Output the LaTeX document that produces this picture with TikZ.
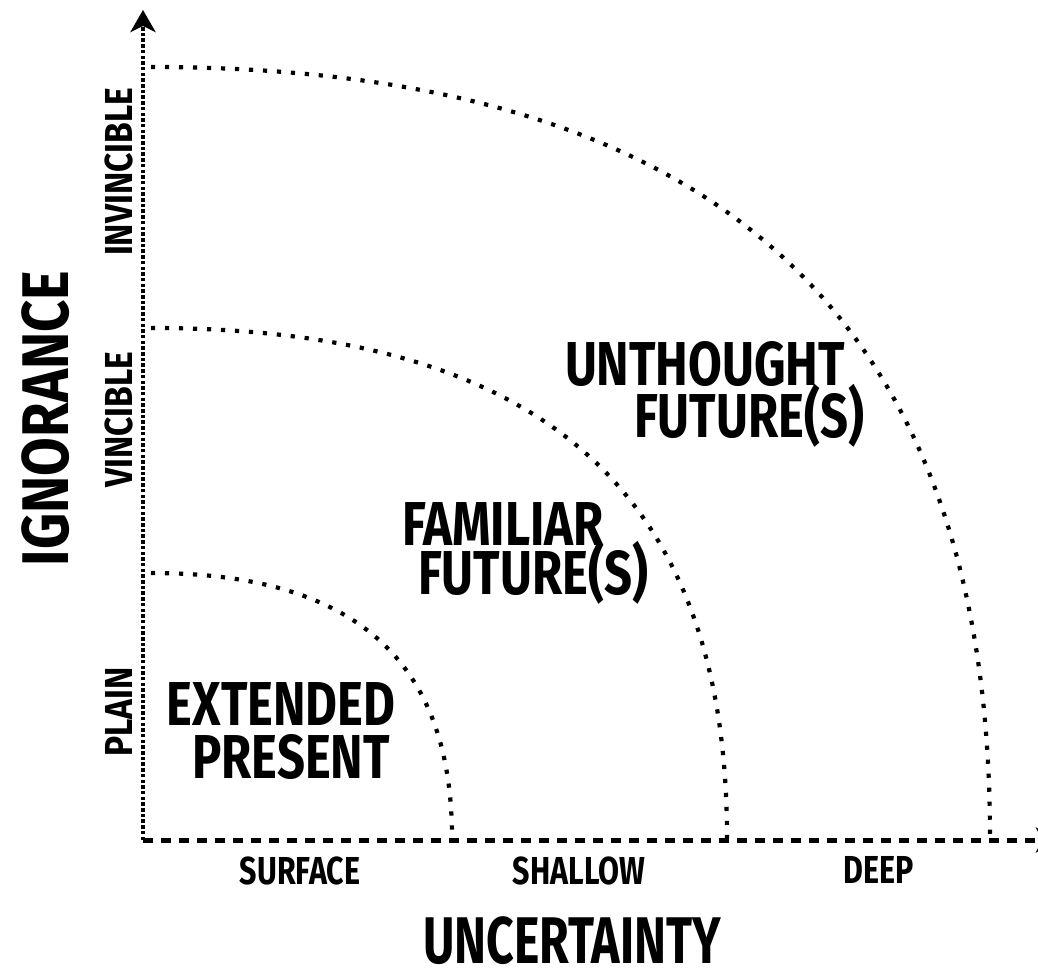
\documentclass[tikz,border=0pt]{standalone}
\usepackage{fontspec}
\setmainfont{Fira Sans}[FakeStretch=0.79]
\newfontfamily\regionfont{Fira Sans}[FakeStretch=0.79]
\newfontfamily\vtickfont{Fira Sans}[FakeStretch=0.86]
\newfontfamily\htickfont{Fira Sans}[FakeStretch=0.78]
\newfontfamily\ignfont{Fira Sans}[FakeStretch=0.85]
\newfontfamily\uncfont{Fira Sans}[FakeStretch=0.73]
\usetikzlibrary{arrows.meta}
\tikzset{
  axisy/.style={line width=4pt, dash pattern=on 3.5pt off 2.2pt},
  axisx/.style={line width=5pt, dash pattern=on 10pt off 8pt},
  arcdots/.style={line width=4.2pt, dash pattern=on 4.2pt off 9.8pt},
  tipstyle/.style={-{Stealth[length=22pt,width=25pt,inset=6pt]}},
  biglab/.style={font=\fontsize{62}{62}\regionfont\bfseries, inner sep=0pt, anchor=base},
  ignlab/.style={font=\fontsize{66}{66}\ignfont\bfseries, inner sep=0pt, anchor=center},
  unclab/.style={font=\fontsize{66}{66}\uncfont\bfseries, inner sep=0pt, anchor=center},
  vticklab/.style={font=\fontsize{39}{39}\vtickfont\bfseries, inner sep=0pt, anchor=center},
  hticklab/.style={font=\fontsize{39}{39}\htickfont\bfseries, inner sep=0pt, anchor=center},
}
\begin{document}
\begin{tikzpicture}[x=1pt,y=-1pt]
\useasboundingbox (0,0) rectangle (1038,968);
% axes
\coordinate (O) at (143,840);
\coordinate (ytop) at (143,10);
\coordinate (xend) at (1058,840);
\draw[axisy,tipstyle] (O) -- (ytop);
\draw[axisx,tipstyle] (O) -- (xend);
% arcs
\coordinate (a1s) at (151,573);
\coordinate (a1e) at (452,838);
\coordinate (a2s) at (151,328);
\coordinate (a2e) at (727,838);
\coordinate (a3s) at (151,67);
\coordinate (a3e) at (990,838);
\draw[arcdots] (a1s) .. controls (353,573) and (452,659) .. (a1e);
\draw[arcdots] (a2s) .. controls (540,328) and (727,490) .. (a2e);
\draw[arcdots] (a3s) .. controls (716,67) and (990,316) .. (a3e);
% region labels
\node[biglab] (ext) at (281,725) {EXTENDED};
\node[biglab] (pres) at (291,778) {PRESENT};
\node[biglab] (fam) at (503,545) {FAMILIAR};
\node[biglab] (fut1) at (533,594) {FUTURE(S)};
\node[biglab] (unt) at (705,385) {UNTHOUGHT};
\node[biglab] (fut2) at (749,437) {FUTURE(S)};
% axis labels
\node[ignlab, rotate=90] (ign) at (45.5,418.5) {IGNORANCE};
\node[unclab] (unc) at (572,941) {UNCERTAINTY};
\node[vticklab, rotate=90] (inv) at (118.5,172) {INVINCIBLE};
\node[vticklab, rotate=90] (vin) at (118.5,420) {VINCIBLE};
\node[vticklab, rotate=90] (pla) at (118.5,712) {PLAIN};
\node[hticklab] (sur) at (300,871) {SURFACE};
\node[hticklab] (sha) at (579,870.5) {SHALLOW};
\node[hticklab] (dee) at (879,870) {DEEP};
\end{tikzpicture}
\end{document}
